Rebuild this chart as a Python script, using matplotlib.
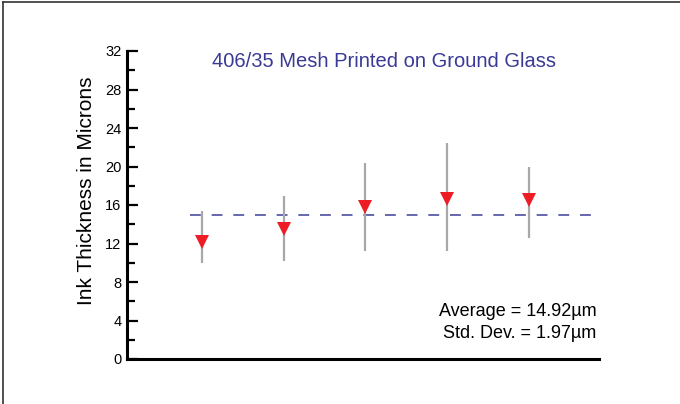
import matplotlib
matplotlib.use("Agg")
import matplotlib.pyplot as plt
from matplotlib.lines import Line2D
from matplotlib.ticker import MultipleLocator

# Measured ink thickness per print sample (microns)
samples = [1, 2, 3, 4, 5]
means = [12.2, 13.5, 15.8, 16.6, 16.5]
lows = [10.0, 10.2, 11.2, 11.2, 12.6]
highs = [15.4, 16.9, 20.4, 22.4, 19.9]
average = 14.92
std_dev = 1.97
yticks = [0, 4, 8, 12, 16, 20, 24, 28, 32]

title = "406/35 Mesh Printed on Ground Glass"
ylabel = "Ink Thickness in Microns"

font = ["Liberation Sans Narrow", "Liberation Sans", "DejaVu Sans"]
plt.rcParams["font.family"] = font

fig = plt.figure(figsize=(6.8, 4.04), dpi=100)
ax = fig.add_axes([127 / 680, 45 / 404, 472 / 680, 308 / 404])

# Frame lines along top and left of the figure
fig.add_artist(Line2D([3 / 680, 3 / 680], [0, 1 - 2 / 404], transform=fig.transFigure,
                      color="#333333", lw=1.2))
fig.add_artist(Line2D([3 / 680, 1], [1 - 2 / 404, 1 - 2 / 404], transform=fig.transFigure,
                      color="#333333", lw=1.2))

# Range bars
ax.vlines(samples, lows, highs, color="#a8a8a8", lw=1.6, zorder=2)

# Average line
ax.hlines(average, 0.853, 5.77, color="#5a5aa8", lw=1.3,
          linestyles=(0, (6, 6)), zorder=1)

# Mean markers
ax.plot(samples, means, linestyle="none", marker="v", markersize=10,
        color="#ee1c25", markeredgewidth=0, zorder=3)

ax.set_xlim(0.083, 5.86)
ax.set_ylim(0, 32)
ax.set_yticks(yticks)
ax.yaxis.set_minor_locator(MultipleLocator(2))
ax.set_xticks([])

for side in ("top", "right"):
    ax.spines[side].set_visible(False)
for side in ("left", "bottom"):
    ax.spines[side].set_linewidth(2.2)
    ax.spines[side].set_color("black")

ax.tick_params(axis="y", which="major", direction="in", length=8, width=1.6,
               labelsize=10.5, pad=4, colors="black")
ax.tick_params(axis="y", which="minor", direction="in", length=5.5, width=1.6)

ax.set_ylabel(ylabel, fontsize=15)
ax.yaxis.set_label_coords(-0.066, 0.545)

ax.text(0.545, 0.965, title, transform=ax.transAxes, ha="center", va="center",
        fontsize=14.5, color="#3a3a96")

ax.text(0.995, 0.155, f"Average = {average:.2f}\u00b5m", transform=ax.transAxes,
        ha="right", va="center", fontsize=13, color="black")
ax.text(0.995, 0.083, f"Std. Dev. = {std_dev:.2f}\u00b5m", transform=ax.transAxes,
        ha="right", va="center", fontsize=13, color="black")

fig.savefig("out.png", dpi=100)
